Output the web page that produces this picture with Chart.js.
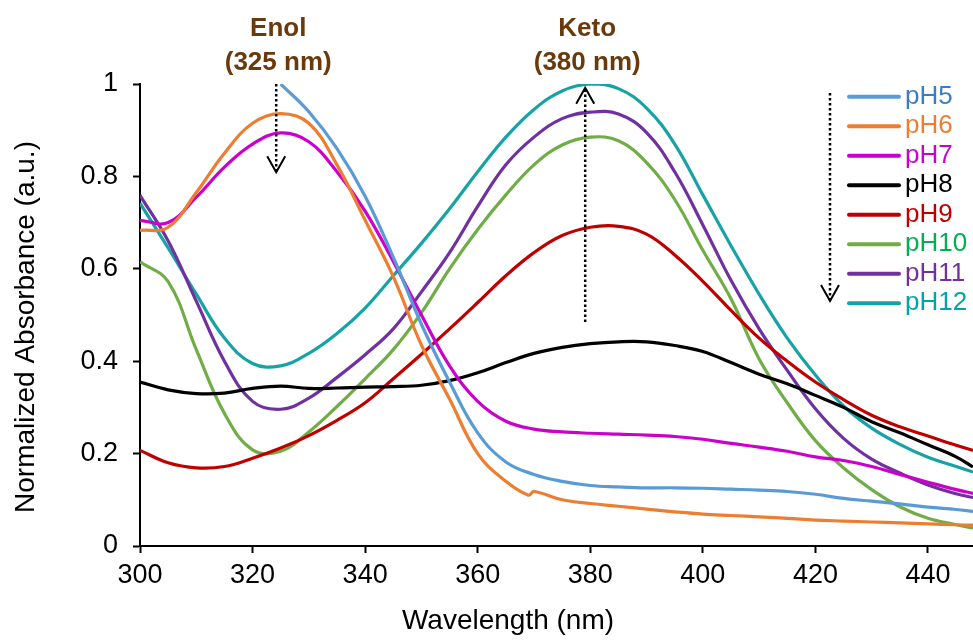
<!DOCTYPE html>
<html>
<head>
<meta charset="utf-8">
<script src="https://cdn.jsdelivr.net/npm/chart.js@4.4.1/dist/chart.umd.min.js"></script>
<style>
html, body { margin: 0; padding: 0; background: #fff; }
#box { width: 973px; height: 643px; }
</style>
</head>
<body>
<div id="box"><canvas id="chart" width="973" height="643"></canvas></div>
<script>
// wavelength grid (nm); 369 is only used by pH6 (small step in its trace)
var wavelengths = [300, 305, 310, 315, 320, 325, 330, 335, 340, 345, 350, 355, 360, 365, 369, 370,
                   375, 380, 385, 390, 395, 400, 405, 410, 415, 420, 425, 430, 435, 440, 445, 448];

var pH5  = [null, null, null, null, null, 1.0, 0.94, 0.86, 0.757, 0.625, 0.48, 0.355, 0.245, 0.182, null, 0.155,
            0.14, 0.131, 0.128, 0.126, 0.126, 0.125, 0.123, 0.121, 0.118, 0.112, 0.103, 0.097, 0.091, 0.084, 0.079, 0.075];
var pH6  = [0.683, 0.69, 0.765, 0.85, 0.915, 0.936, 0.915, 0.825, 0.705, 0.583, 0.435, 0.318, 0.2, 0.14, 0.11, 0.118,
            0.1, 0.092, 0.086, 0.08, 0.074, 0.069, 0.066, 0.063, 0.06, 0.056, 0.054, 0.052, 0.05, 0.048, 0.046, 0.045];
var pH7  = [0.705, 0.70, 0.755, 0.82, 0.87, 0.894, 0.875, 0.81, 0.725, 0.616, 0.50, 0.39, 0.313, 0.27, null, 0.253,
            0.247, 0.244, 0.242, 0.24, 0.237, 0.231, 0.222, 0.214, 0.205, 0.193, 0.185, 0.172, 0.155, 0.138, 0.122, 0.114];
var pH8  = [0.355, 0.338, 0.33, 0.331, 0.341, 0.346, 0.341, 0.342, 0.344, 0.345, 0.348, 0.358, 0.375, 0.397, null, 0.417,
            0.43, 0.438, 0.442, 0.442, 0.434, 0.421, 0.397, 0.372, 0.351, 0.326, 0.30, 0.269, 0.245, 0.219, 0.193, 0.171];
var pH9  = [0.207, 0.18, 0.169, 0.172, 0.19, 0.212, 0.239, 0.272, 0.31, 0.362, 0.415, 0.47, 0.527, 0.585, null, 0.635,
            0.672, 0.69, 0.692, 0.675, 0.63, 0.573, 0.51, 0.45, 0.40, 0.355, 0.317, 0.283, 0.258, 0.238, 0.218, 0.207];
var pH10 = [0.615, 0.572, 0.425, 0.287, 0.208, 0.205, 0.247, 0.302, 0.362, 0.425, 0.505, 0.6, 0.685, 0.76, null, 0.825,
            0.868, 0.885, 0.877, 0.83, 0.75, 0.64, 0.535, 0.405, 0.31, 0.228, 0.169, 0.122, 0.085, 0.06, 0.046, 0.039];
var pH11 = [0.759, 0.66, 0.53, 0.40, 0.313, 0.296, 0.32, 0.365, 0.414, 0.47, 0.55, 0.635, 0.735, 0.825, null, 0.885,
            0.925, 0.939, 0.935, 0.895, 0.81, 0.695, 0.575, 0.47, 0.38, 0.297, 0.233, 0.188, 0.158, 0.132, 0.113, 0.105];
var pH12 = [0.742, 0.645, 0.545, 0.45, 0.395, 0.39, 0.417, 0.46, 0.515, 0.585, 0.655, 0.73, 0.81, 0.885, null, 0.945,
            0.985, 1.0, 0.99, 0.948, 0.87, 0.76, 0.65, 0.545, 0.45, 0.37, 0.303, 0.255, 0.22, 0.192, 0.172, 0.16];

var seriesNames  = ['pH5', 'pH6', 'pH7', 'pH8', 'pH9', 'pH10', 'pH11', 'pH12'];
var seriesValues = [pH5, pH6, pH7, pH8, pH9, pH10, pH11, pH12];
var lineColors   = ['#5B9BD5', '#ED7D31', '#CC00CC', '#000000', '#C00000', '#70AD47', '#7030A0', '#17A3A6'];
var textColors   = ['#3A7DC4', '#ED7D31', '#CC00CC', '#000000', '#C00000', '#00B050', '#7030A0', '#00A6A6'];

var xTicks = [300, 320, 340, 360, 380, 400, 420, 440];
var yTicks = [0, 0.2, 0.4, 0.6, 0.8, 1];

// peak annotations: label, wavelength of the dotted arrow
var peakLabels = ['Enol', 'Keto'];
var peakNm     = ['(325 nm)', '(380 nm)'];
var peakArrowX = [324.2, 379.1];

var FONT = '"Liberation Sans", Arial, Helvetica, sans-serif';

function dottedArrow(ctx, x, yFrom, yTip) {
    ctx.save();
    ctx.strokeStyle = '#000';
    ctx.lineWidth = 2.5;
    ctx.setLineDash([2.5, 2.5]);
    ctx.beginPath();
    ctx.moveTo(x, yFrom);
    ctx.lineTo(x, yTip);
    ctx.stroke();
    ctx.setLineDash([]);
    ctx.lineWidth = 2;
    var d = yTip > yFrom ? -1 : 1;
    ctx.beginPath();
    ctx.moveTo(x - 9, yTip + d * 16);
    ctx.lineTo(x, yTip);
    ctx.lineTo(x + 9, yTip + d * 16);
    ctx.stroke();
    ctx.restore();
}

var overlay = {
    id: 'overlay',
    afterDraw: function (chart) {
        var ctx = chart.ctx;
        var xs = chart.scales.x, ys = chart.scales.y;

        // axis titles
        ctx.save();
        ctx.fillStyle = '#000';
        ctx.font = '28px ' + FONT;
        ctx.textAlign = 'center';
        ctx.textBaseline = 'middle';
        ctx.fillText('Wavelength (nm)', 508, 621);
        ctx.translate(26, 327);
        ctx.rotate(-Math.PI / 2);
        ctx.fillText('Normalized Absorbance (a.u.)', 0, 0);
        ctx.restore();

        // Enol / Keto labels and arrows
        ctx.save();
        ctx.fillStyle = '#6A3A0C';
        ctx.font = 'bold 26px ' + FONT;
        ctx.textAlign = 'center';
        ctx.textBaseline = 'middle';
        for (var i = 0; i < peakLabels.length; i++) {
            var px = xs.getPixelForValue(peakArrowX[i]);
            ctx.fillText(peakLabels[i], px + 2, 29);
            ctx.fillText(peakNm[i], px + 2, 63);
        }
        ctx.restore();
        var ex = xs.getPixelForValue(peakArrowX[0]);
        dottedArrow(ctx, ex, ys.getPixelForValue(1.0), ys.getPixelForValue(0.809));
        var kx = xs.getPixelForValue(peakArrowX[1]);
        dottedArrow(ctx, kx, ys.getPixelForValue(0.485), ys.getPixelForValue(0.992));

        // legend
        var top = 96.7, step = 29.5;
        ctx.save();
        ctx.font = '26px ' + FONT;
        ctx.textAlign = 'left';
        ctx.textBaseline = 'middle';
        ctx.lineCap = 'round';
        for (var j = 0; j < seriesNames.length; j++) {
            var y = top + j * step;
            ctx.strokeStyle = lineColors[j];
            ctx.lineWidth = 4;
            ctx.beginPath();
            ctx.moveTo(849, y);
            ctx.lineTo(899, y);
            ctx.stroke();
            ctx.fillStyle = textColors[j];
            ctx.fillText(seriesNames[j], 905, y);
        }
        ctx.restore();
        dottedArrow(ctx, 830, 93, 301);
    }
};

var datasets = [];
for (var k = 0; k < seriesNames.length; k++) {
    var pts = [];
    for (var m = 0; m < wavelengths.length; m++) {
        pts.push({ x: wavelengths[m], y: seriesValues[k][m] });
    }
    datasets.push({
        label: seriesNames[k],
        data: pts,
        borderColor: lineColors[k],
        backgroundColor: lineColors[k],
        borderWidth: 3.2,
        pointRadius: 0,
        fill: false,
        spanGaps: true,
        tension: 0.4
    });
}

var ctx = document.getElementById('chart').getContext('2d');
new Chart(ctx, {
    type: 'line',
    data: { datasets: datasets },
    options: {
        responsive: false,
        animation: false,
        layout: { padding: { top: 84, right: 0, left: 0, bottom: 0 } },
        plugins: { legend: { display: false }, tooltip: { enabled: false } },
        scales: {
            x: {
                type: 'linear',
                min: 300,
                max: 448,
                afterFit: function (s) { s.height = 97; },
                afterBuildTicks: function (s) { s.ticks = xTicks.map(function (v) { return { value: v }; }); },
                grid: { drawOnChartArea: false, drawTicks: true, tickLength: 7, tickColor: '#000', tickWidth: 2 },
                border: { color: '#000', width: 2 },
                ticks: { color: '#000', font: { family: FONT, size: 27 }, padding: 6, maxRotation: 0 }
            },
            y: {
                min: 0,
                max: 1,
                afterFit: function (s) { s.width = 140; },
                afterBuildTicks: function (s) { s.ticks = yTicks.map(function (v) { return { value: v }; }); },
                grid: { drawOnChartArea: false, drawTicks: true, tickLength: 7, tickColor: '#000', tickWidth: 2 },
                border: { color: '#000', width: 2 },
                ticks: {
                    color: '#000', font: { family: FONT, size: 27 }, padding: 15,
                    callback: function (v) { return String(Math.round(v * 10) / 10); }
                }
            }
        }
    },
    plugins: [overlay]
});
</script>
</body>
</html>
